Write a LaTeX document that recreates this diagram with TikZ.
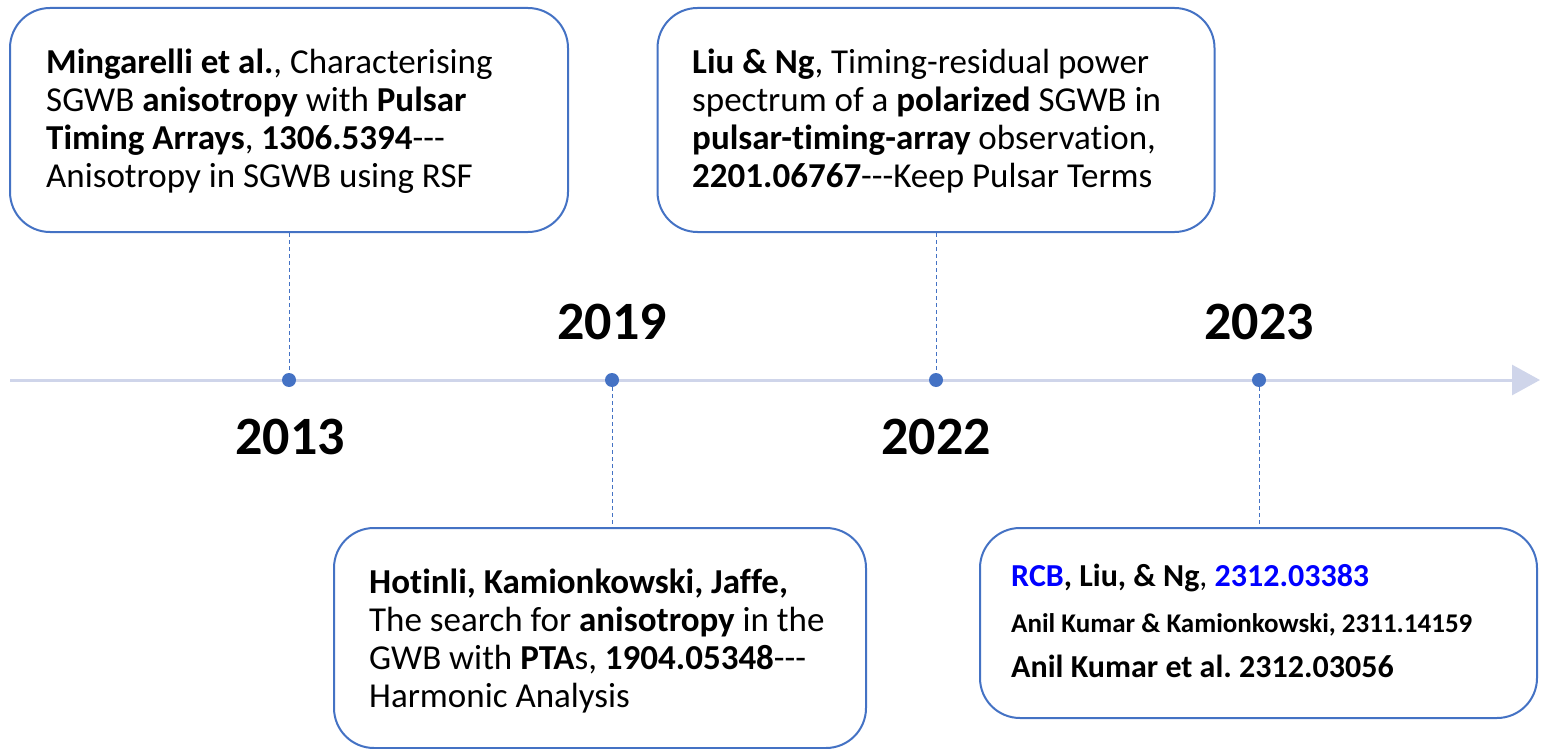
\documentclass[tikz,border=0pt]{standalone}
\usepackage{fontspec}
\setmainfont{Carlito}[Ligatures={NoCommon}]
\usetikzlibrary{arrows.meta}
\definecolor{boxblue}{RGB}{68,114,196}
\definecolor{axis}{RGB}{207,213,234}
\definecolor{pureblue}{RGB}{0,0,255}
\frenchspacing
\tikzset{
  card/.style={draw=boxblue, line width=2pt, rounded corners=40pt, fill=white, inner sep=0pt},
  body/.style={anchor=base west, inner sep=0pt, align=left, font=\fontsize{35}{38}\selectfont},
  year/.style={font=\fontsize{54}{60}\selectfont\bfseries, inner sep=0pt},
  dot/.style={circle, fill=boxblue, minimum size=14pt, inner sep=0pt},
  stem/.style={draw=boxblue, line width=1pt, dash pattern=on 4pt off 3pt},
  axisline/.style={draw=axis, line width=3pt, -{Triangle[length=28pt,width=30pt]}},
  refline/.style={anchor=base west, inner sep=0pt}
}
\begin{document}
\begin{tikzpicture}[x=1pt,y=-1pt]
\useasboundingbox (0,0) rectangle (1550,749);
% axis
\coordinate (axstart) at (10,380);
\coordinate (axend) at (1540,380);
\draw[axisline] (axstart) -- (axend);
% boxes
\node[card, minimum width=558pt, minimum height=224pt] (b13) at (289,120) {};
\node[card, minimum width=557pt, minimum height=224pt] (b22) at (936,120) {};
\node[card, minimum width=532pt, minimum height=220pt] (b19) at (600,638) {};
\node[card, minimum width=557pt, minimum height=190pt] (b23) at (1258.5,623) {};
% dots
\node[dot] (d13) at (289,380) {};
\node[dot] (d19) at (612,380) {};
\node[dot] (d22) at (936,380) {};
\node[dot] (d23) at (1259,380) {};
% stems
\draw[stem] (b13.south -| d13) -- (d13);
\draw[stem] (b22.south -| d22) -- (d22);
\draw[stem] (d19) -- (b19.north -| d19);
\draw[stem] (d23) -- (b23.north -| d23);
% years
\node[year] (y13) at (290,437) {2013};
\node[year] (y19) at (612,322) {2019};
\node[year] (y22) at (936,437) {2022};
\node[year] (y23) at (1259,322) {2023};
% texts (anchored at baseline of last line)
\node[body] (t13) at (46,187) {\textbf{Mingarelli et al.}, Characterising\\SGWB \textbf{anisotropy} with \textbf{Pulsar}\\\textbf{Timing Arrays}, \textbf{1306.5394}-{}-{}-\\Anisotropy in SGWB using RSF};
\node[body] (t22) at (692,187) {\textbf{Liu \& Ng}, Timing-residual power\\spectrum of a \textbf{polarized} SGWB in\\\textbf{pulsar-timing-array} observation,\\\textbf{2201.06767}-{}-{}-Keep Pulsar Terms};
\node[body] (t19) at (369,707) {\textbf{Hotinli, Kamionkowski, Jaffe,}\\The search for \textbf{anisotropy} in the\\GWB with \textbf{PTA}s, \textbf{1904.05348}-{}-{}-\\Harmonic Analysis};
\node[refline, font=\fontsize{32}{36}\selectfont] (t23a) at (1011,586) {\textbf{\textcolor{pureblue}{RCB}, Liu, \& Ng}, \textbf{\textcolor{pureblue}{2312.03383}}};
\node[refline, font=\fontsize{27}{30}\selectfont\bfseries] (t23b) at (1011,632) {Anil Kumar \& Kamionkowski, 2311.14159};
\node[refline, font=\fontsize{32}{36}\selectfont\bfseries] (t23c) at (1011,677) {Anil Kumar et al. 2312.03056};
\end{tikzpicture}
\end{document}
